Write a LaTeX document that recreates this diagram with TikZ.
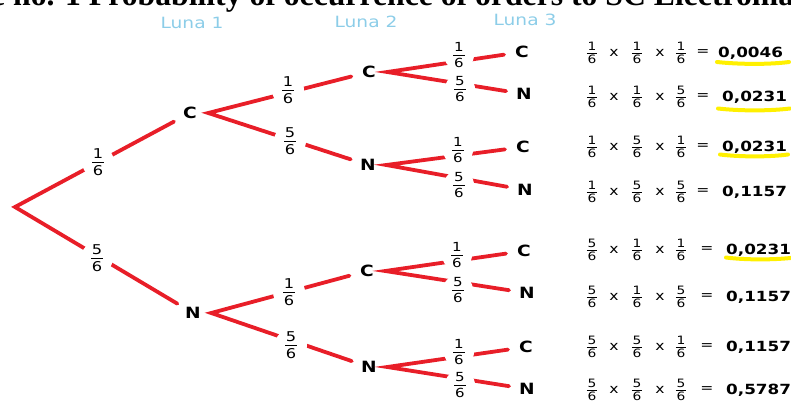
\documentclass[tikz,border=0pt]{standalone}
\usepackage{fontspec}
\setmainfont{DejaVu Sans}[FakeStretch=1.2]
\newfontfamily\titlefont{Liberation Serif}
\definecolor{treered}{RGB}{232,30,40}
\definecolor{lunablue}{RGB}{140,205,232}
\definecolor{hlyellow}{RGB}{255,240,0}
\newdimen\frgap \frgap=2.6pt
% stacked fraction in the text font
\newcommand\fr[2]{\vbox{\offinterlineskip\halign{\hfil\kern0.8pt##\kern0.8pt\hfil\cr
  \vphantom{0}#1\cr\noalign{\kern\frgap\hrule height0.8pt\kern\frgap}\vphantom{0}#2\cr}}}
\newcommand\efr[2]{{\frgap=1.5pt\fr{#1}{#2}}}
\tikzset{
  branch/.style={draw=treered, line width=3.8pt, line cap=round},
  tnode/.style={circle, minimum size=36pt, inner sep=0pt, font=\fontsize{15.5}{16}\selectfont\bfseries},
  plabel/.style={circle, fill=white, minimum size=30pt, inner sep=0pt, font=\fontsize{12.5}{13}\selectfont},
  biglabel/.style={plabel, minimum size=32pt, font=\fontsize{13.5}{14}\selectfont},
  luna/.style={text=lunablue, font=\fontsize{15.5}{16}\selectfont, inner sep=0pt},
  efrac/.style={inner sep=0pt, font=\fontsize{11.5}{12}\selectfont},
  eop/.style={inner sep=0pt, font=\fontsize{13}{13}\selectfont},
  eres/.style={inner sep=0pt, anchor=base west, font=\fontsize{14}{14}\selectfont\bfseries},
  hl/.style={draw=hlyellow, line width=4pt, line cap=round},
}
% #1 name, #2 y, #3 #4 #5 numerators, #6 result, #7 x of "=", #8 x of result
\newcommand\eqrow[8]{%
  \node[efrac] (#1f1) at (592,#2) {\efr{#3}{6}};
  \node[eop]   (#1m1) at (614,#2) {x};
  \node[efrac] (#1f2) at (637,#2) {\efr{#4}{6}};
  \node[eop]   (#1m2) at (660,#2) {x};
  \node[efrac] (#1f3) at (681,#2) {\efr{#5}{6}};
  \node[eop]   (#1eq) at (#7,#2) {=};
  \node[eres]  (#1res) at (#8,#2+4.5) {#6};
}
\begin{document}
\begin{tikzpicture}[x=1pt,y=-1pt]
\useasboundingbox (0,0) rectangle (791,401);
\clip (0,0) rectangle (791,401);

% title (cut off at the top, as in the source)
\node[anchor=base west, inner sep=0pt, font=\titlefont\bfseries\fontsize{31.7}{32}\selectfont] (title) at (-69.5,5.5)
  {Table no. 1 Probability of occurrence of orders to SC Electromagnetic};

% column headings
\node[luna] (luna1) at (192,23) {Luna 1};
\node[luna] (luna2) at (366,22) {Luna 2};
\node[luna] (luna3) at (525,20) {Luna 3};

% tree nodes
\coordinate (root) at (15,207);
\node[tnode] (C1) at (190,113) {C};
\node[tnode] (N1) at (193,313) {N};
\node[tnode] (C2a) at (369,72) {C};
\node[tnode] (N2a) at (368,165) {N};
\node[tnode] (C2b) at (367,271) {C};
\node[tnode] (N2b) at (369,367) {N};
\node[tnode] (C3a) at (522,52) {C};
\node[tnode] (N3a) at (524,94) {N};
\node[tnode] (C3b) at (523,147) {C};
\node[tnode] (N3b) at (525,190) {N};
\node[tnode] (C3c) at (524,251) {C};
\node[tnode] (N3c) at (527,293) {N};
\node[tnode] (C3d) at (526,347) {C};
\node[tnode] (N3d) at (527,389) {N};

% branches
\draw[branch] (C1) -- (root) -- (N1);
\draw[branch] (C2a) -- (C1.east) -- (N2a);
\draw[branch] (C2b) -- (N1.east) -- (N2b);
\draw[branch] (C3a) -- (C2a.east) -- (N3a);
\draw[branch] (C3b) -- (N2a.east) -- (N3b);
\draw[branch] (C3c) -- (C2b.east) -- (N3c);
\draw[branch] (C3d) -- (N2b.east) -- (N3d);

% branch probabilities
\node[biglabel] (pC1) at (98,162) {\fr16};
\node[biglabel] (pN1) at (97,258) {\fr56};
\node[biglabel] (pC2a) at (288,90) {\fr16};
\node[biglabel] (pN2a) at (290,141) {\fr56};
\node[biglabel] (pC2b) at (289,292) {\fr16};
\node[biglabel] (pN2b) at (291,345) {\fr56};
\node[plabel] (pC3a) at (459,55) {\fr16};
\node[plabel] (pN3a) at (460,89) {\fr56};
\node[plabel] (pC3b) at (458,150) {\fr16};
\node[plabel] (pN3b) at (459,185) {\fr56};
\node[plabel] (pC3c) at (457,255) {\fr16};
\node[plabel] (pN3c) at (458,290) {\fr56};
\node[plabel] (pC3d) at (459,352) {\fr16};
\node[plabel] (pN3d) at (460,385) {\fr56};

% highlights
\draw[hl] (717,62) .. controls (740,64.5) and (770,64.5) .. (789,62);
\draw[hl] (718,108.5) .. controls (740,111) and (770,111) .. (790,108.5);
\draw[hl] (720,154.5) .. controls (740,157) and (770,157) .. (788,154.5);
\draw[hl] (726,257.5) .. controls (745,260) and (775,260) .. (795,257.5);

% products
\eqrow{r1}{53}{1}{1}{1}{0,0046}{703}{718}
\eqrow{r2}{97}{1}{1}{5}{0,0231}{703}{722}
\eqrow{r3}{147}{1}{5}{1}{0,0231}{703}{722}
\eqrow{r4}{192}{1}{5}{5}{0,1157}{703}{722}
\eqrow{r5}{250}{5}{1}{1}{0,0231}{707}{726}
\eqrow{r6}{297}{5}{1}{5}{0,1157}{707}{726}
\eqrow{r7}{347}{5}{5}{1}{0,1157}{707}{726}
\eqrow{r8}{390}{5}{5}{5}{0,5787}{707}{726}
\end{tikzpicture}
\end{document}
